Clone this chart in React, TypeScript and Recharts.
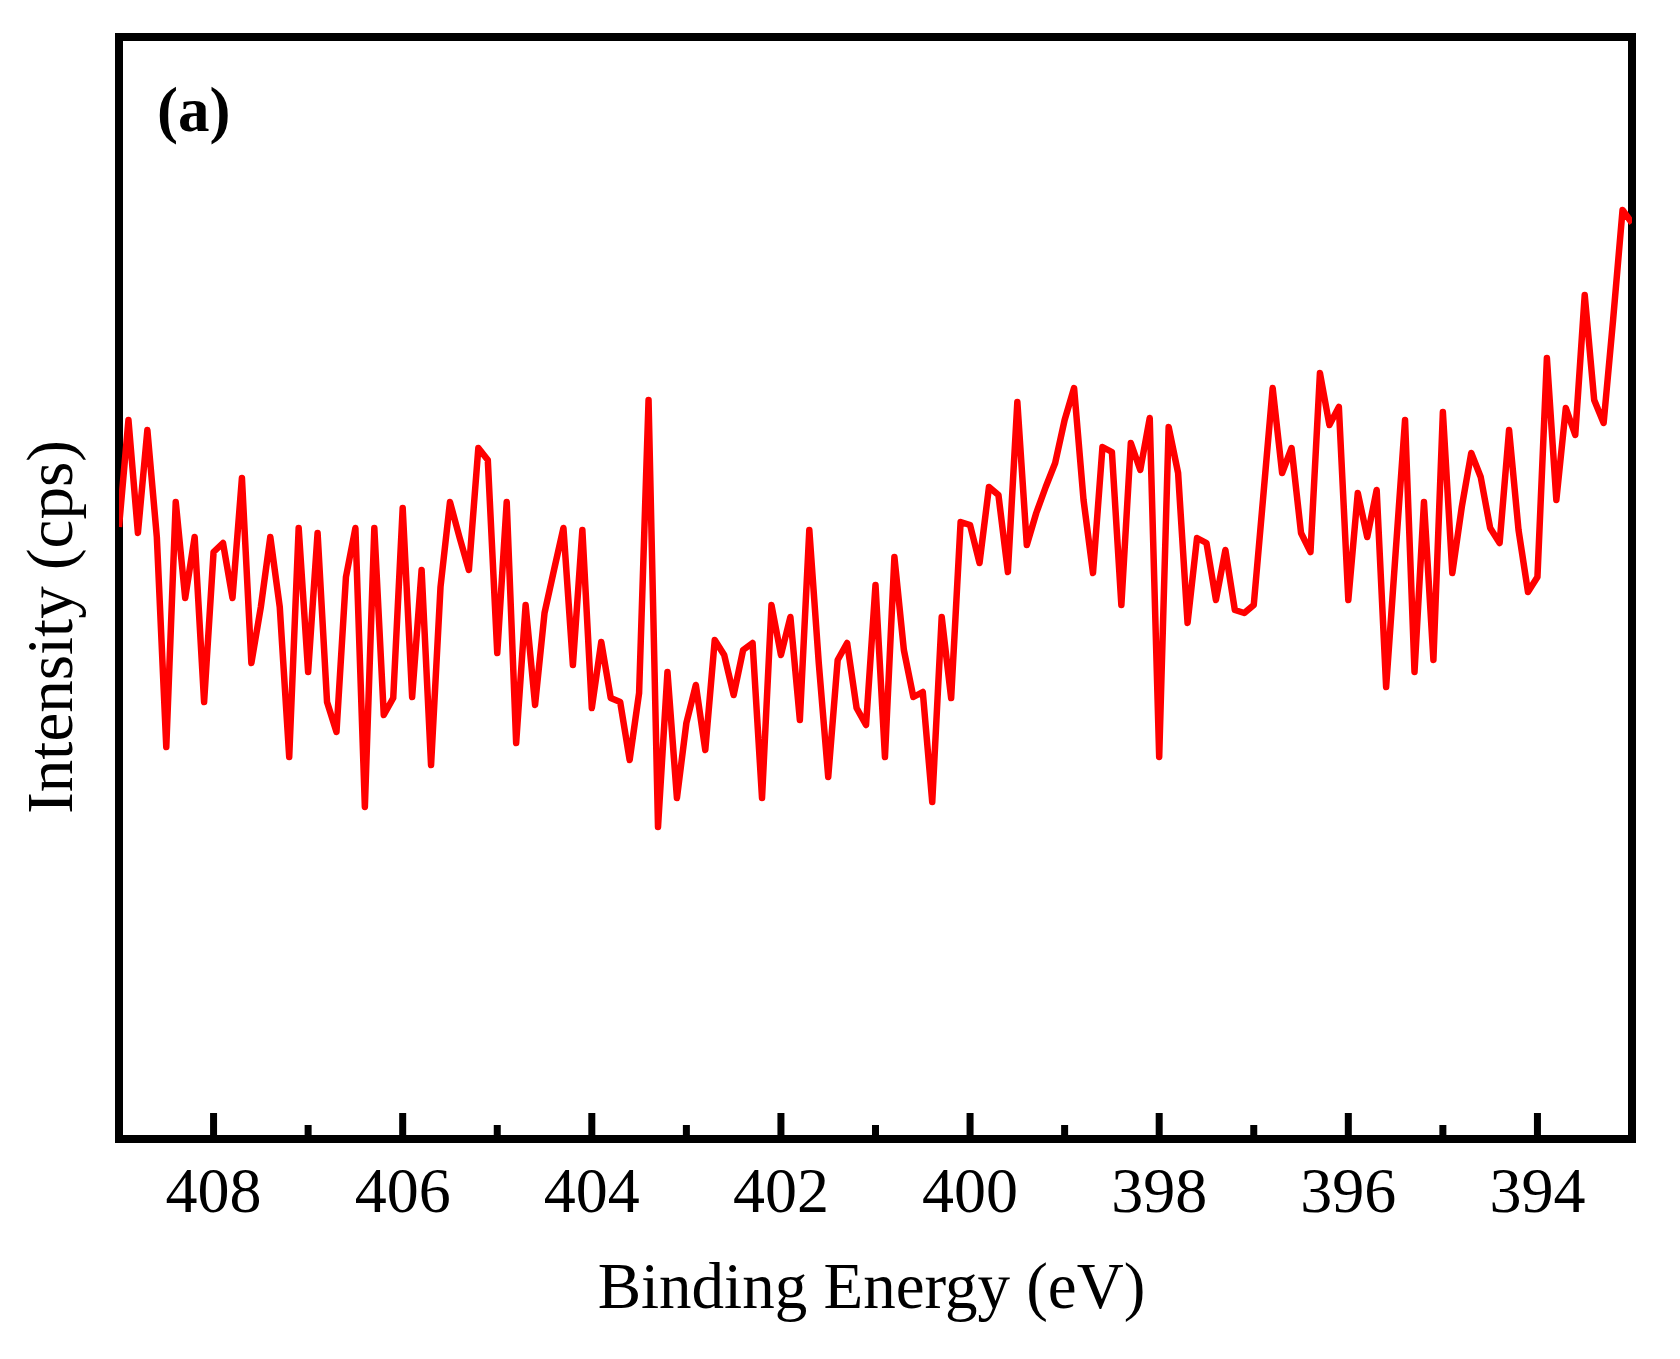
import { LineChart, Line, XAxis, YAxis, ReferenceArea } from 'recharts';

// Binding energy grid (eV), 0.1 eV steps
const bindingEnergy = [
  409.0, 408.9, 408.8, 408.7, 408.6, 408.5, 408.4, 408.3, 408.2, 408.1,
  408.0, 407.9, 407.8, 407.7, 407.6, 407.5, 407.4, 407.3, 407.2, 407.1,
  407.0, 406.9, 406.8, 406.7, 406.6, 406.5, 406.4, 406.3, 406.2, 406.1,
  406.0, 405.9, 405.8, 405.7, 405.6, 405.5, 405.4, 405.3, 405.2, 405.1,
  405.0, 404.9, 404.8, 404.7, 404.6, 404.5, 404.4, 404.3, 404.2, 404.1,
  404.0, 403.9, 403.8, 403.7, 403.6, 403.5, 403.4, 403.3, 403.2, 403.1,
  403.0, 402.9, 402.8, 402.7, 402.6, 402.5, 402.4, 402.3, 402.2, 402.1,
  402.0, 401.9, 401.8, 401.7, 401.6, 401.5, 401.4, 401.3, 401.2, 401.1,
  401.0, 400.9, 400.8, 400.7, 400.6, 400.5, 400.4, 400.3, 400.2, 400.1,
  400.0, 399.9, 399.8, 399.7, 399.6, 399.5, 399.4, 399.3, 399.2, 399.1,
  399.0, 398.9, 398.8, 398.7, 398.6, 398.5, 398.4, 398.3, 398.2, 398.1,
  398.0, 397.9, 397.8, 397.7, 397.6, 397.5, 397.4, 397.3, 397.2, 397.1,
  397.0, 396.9, 396.8, 396.7, 396.6, 396.5, 396.4, 396.3, 396.2, 396.1,
  396.0, 395.9, 395.8, 395.7, 395.6, 395.5, 395.4, 395.3, 395.2, 395.1,
  395.0, 394.9, 394.8, 394.7, 394.6, 394.5, 394.4, 394.3, 394.2, 394.1,
  394.0, 393.9, 393.8, 393.7, 393.6, 393.5, 393.4, 393.3, 393.2, 393.1,
  393.0,
];

// Intensity (arbitrary cps units, axis has no scale)
const intensity = [
  612, 719, 606, 709, 602, 392, 637, 541, 602, 437,
  587, 596, 541, 661, 476, 532, 602, 532, 382, 611,
  467, 606, 437, 407, 562, 611, 332, 611, 424, 441,
  631, 442, 569, 374, 552, 637, 602, 569, 691, 679,
  486, 637, 396, 534, 434, 526, 569, 611, 474, 609,
  431, 497, 441, 437, 379, 446, 739, 312, 467, 341,
  416, 454, 389, 499, 484, 444, 489, 496, 341, 534,
  484, 522, 419, 609, 476, 362, 479, 496, 431, 414,
  554, 382, 582, 489, 442, 447, 337, 522, 441, 617,
  614, 576, 652, 644, 567, 737, 594, 626, 652, 676,
  719, 751, 639, 566, 692, 687, 534, 696, 669, 721,
  382, 712, 666, 516, 601, 596, 539, 589, 529, 526,
  534, 642, 751, 666, 691, 606, 587, 766, 714, 732,
  539, 646, 602, 649, 452, 586, 719, 467, 637, 479,
  727, 566, 632, 686, 662, 611, 596, 709, 609, 547,
  562, 781, 639, 731, 704, 844, 739, 716, 819, 929,
  916,
];

const xTicks = [408, 407, 406, 405, 404, 403, 402, 401, 400, 399, 398, 397, 396, 395, 394];
const labelledTicks = [408, 406, 404, 402, 400, 398, 396, 394];

const serif = '"Liberation Serif", "Times New Roman", serif';

const chartData = bindingEnergy.map((energy, i) => ({ energy, intensity: intensity[i] }));

function EnergyTick({ x, y, payload }: any) {
  const major = labelledTicks.includes(payload.value);
  return (
    <g>
      <line x1={x} x2={x} y1={y} y2={y - (major ? 26 : 14)} stroke="#000" strokeWidth={7} />
      {major && (
        <text x={x} y={y + 73} textAnchor="middle" fontSize={64} fontFamily={serif} fill="#000">
          {payload.value}
        </text>
      )}
    </g>
  );
}

const renderXTitle = ({ viewBox }: any) => (
  <text
    x={viewBox.x + viewBox.width / 2 - 4}
    y={viewBox.y + 169}
    textAnchor="middle"
    fontSize={65}
    fontFamily={serif}
    fill="#000"
  >
    Binding Energy (eV)
  </text>
);

const renderYTitle = ({ viewBox }: any) => {
  const cx = viewBox.x + 72;
  const cy = viewBox.y + viewBox.height / 2 + 39;
  return (
    <text
      x={cx}
      y={cy}
      transform={`rotate(-90, ${cx}, ${cy})`}
      textAnchor="middle"
      fontSize={65}
      fontFamily={serif}
      fill="#000"
    >
      Intensity (cps)
    </text>
  );
};

const renderPanelLabel = ({ viewBox }: any) => (
  <text x={viewBox.x + 38} y={viewBox.y + 94} fontSize={63} fontWeight="bold" fontFamily={serif} fill="#000">
    (a)
  </text>
);

export default function App() {
  return (
    <div style={{ position: 'absolute', left: 0, top: 0, width: 1680, height: 1359, background: '#fff' }}>
      <LineChart width={1680} height={1359} data={chartData} margin={{ top: 37, right: 48, bottom: 70, left: 0 }}>
        <XAxis
          type="number"
          dataKey="energy"
          domain={[393, 409]}
          reversed
          allowDataOverflow
          ticks={xTicks}
          interval={0}
          tickSize={0}
          tickMargin={0}
          tick={(props: any) => <EnergyTick {...props} />}
          axisLine={false}
          tickLine={false}
          height={150}
          label={renderXTitle}
        />
        <YAxis
          type="number"
          domain={[0, 1102]}
          allowDataOverflow
          width={119}
          tick={false}
          axisLine={false}
          tickLine={false}
          label={renderYTitle}
        />
        <Line
          type="linear"
          dataKey="intensity"
          stroke="#ff0000"
          strokeWidth={6.5}
          strokeLinejoin="round"
          dot={false}
          activeDot={false}
          isAnimationActive={false}
        />
        <ReferenceArea
          x1={409}
          x2={393}
          y1={0}
          y2={1102}
          fill="none"
          fillOpacity={0}
          stroke="#000"
          strokeWidth={8}
          ifOverflow="visible"
          label={renderPanelLabel}
        />
      </LineChart>
    </div>
  );
}
